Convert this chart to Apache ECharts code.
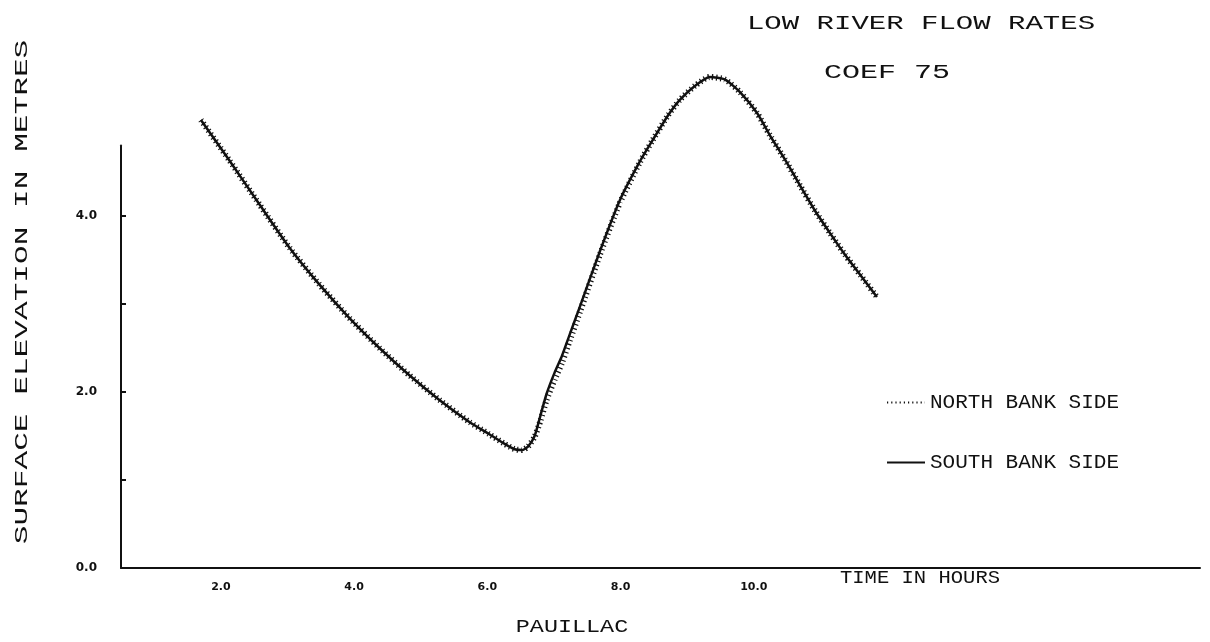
<!DOCTYPE html>
<html>
<head>
<meta charset="utf-8">
<script src="https://cdn.jsdelivr.net/npm/echarts@6/dist/echarts.min.js"></script>
<style>
html,body{margin:0;padding:0;background:#fff;}
#chart{width:1210px;height:642px;}
</style>
</head>
<body>
<div id="chart"></div>
<script>
// ---- data ----
const hours      = [1.70, 2.12, 2.58, 3.03, 3.48, 3.93, 4.38, 4.83, 5.28, 5.73, 6.03, 6.26, 6.41, 6.52, 6.61, 6.71, 6.80, 6.89, 7.01, 7.12, 7.24, 7.39, 7.69, 7.99, 8.29, 8.48, 8.71, 8.89, 9.12, 9.34, 9.57, 9.79, 10.05, 10.24, 10.47, 10.70, 10.92, 11.15, 11.37, 11.60, 11.85];
const northBank  = [5.09, 4.64, 4.13, 3.64, 3.22, 2.84, 2.50, 2.19, 1.91, 1.66, 1.52, 1.41, 1.35, 1.34, 1.38, 1.49, 1.68, 1.91, 2.14, 2.33, 2.59, 2.91, 3.56, 4.15, 4.61, 4.86, 5.14, 5.32, 5.48, 5.58, 5.55, 5.41, 5.17, 4.92, 4.64, 4.34, 4.06, 3.80, 3.56, 3.33, 3.08];
const southBank  = [5.09, 4.64, 4.13, 3.64, 3.22, 2.84, 2.50, 2.19, 1.91, 1.66, 1.52, 1.41, 1.35, 1.34, 1.38, 1.50, 1.74, 1.98, 2.22, 2.41, 2.66, 2.97, 3.60, 4.18, 4.62, 4.86, 5.14, 5.32, 5.48, 5.58, 5.55, 5.41, 5.17, 4.92, 4.64, 4.34, 4.06, 3.80, 3.56, 3.33, 3.08];
const xTickLabels = [2, 4, 6, 8, 10];
const yTicks      = [0, 1, 2, 3, 4];
const yTickLabels = [0, 2, 4];
const seriesNames = ['NORTH BANK SIDE', 'SOUTH BANK SIDE'];
const titleLines  = ['LOW RIVER FLOW RATES', 'COEF 75'];
const yAxisTitle  = 'SURFACE ELEVATION IN METRES';
const xAxisTitle  = 'TIME IN HOURS';
const stationName = 'PAUILLAC';

const mono = '"Liberation Mono", "DejaVu Sans Mono", monospace';
const chart = echarts.init(document.getElementById('chart'));

function txt(text, x, y, size, sx, rot) {
  return {
    type: 'text', x: x, y: y, scaleX: sx, rotation: rot || 0,
    style: { text: text, font: size + 'px ' + mono, fill: '#111', align: 'center', verticalAlign: 'middle' }
  };
}

chart.setOption({
  backgroundColor: '#fff',
  animation: false,
  grid: { left: 121, right: 10, top: 145.6, bottom: 74 },
  legend: {
    orient: 'vertical', left: 886, top: 392,
    itemWidth: 38, itemHeight: 14, itemGap: 39, padding: 0,
    itemStyle: { opacity: 0 },
    textStyle: { fontFamily: mono, fontSize: 21, color: '#111' },
    data: seriesNames
  },
  xAxis: {
    type: 'value', min: 0.5, max: 16.7,
    axisLine: { show: true, lineStyle: { color: '#111', width: 2 } },
    axisTick: { show: false },
    splitLine: { show: false },
    axisLabel: {
      customValues: xTickLabels, margin: 14,
      formatter: v => v.toFixed(1),
      fontSize: 11, fontWeight: 'bold', color: '#111', fontFamily: 'DejaVu Sans'
    }
  },
  yAxis: {
    type: 'value', min: 0, max: 4.8,
    axisLine: { show: true, lineStyle: { color: '#111', width: 2 } },
    axisTick: { show: true, inside: true, length: 5, customValues: yTicks, lineStyle: { color: '#111', width: 2 } },
    splitLine: { show: false },
    axisLabel: {
      customValues: yTickLabels, margin: 24,
      formatter: v => v.toFixed(1),
      fontSize: 12, fontWeight: 'bold', color: '#111', fontFamily: 'DejaVu Sans'
    }
  },
  series: [
    {
      name: seriesNames[0], type: 'line', clip: false, smooth: 0.2, symbol: 'none',
      data: hours.map((h, i) => [h, northBank[i]]),
      lineStyle: { color: '#111', width: 6, type: [1.2, 3] },
      itemStyle: { color: '#111' }, z: 3
    },
    {
      name: seriesNames[1], type: 'line', clip: false, smooth: 0.2, symbol: 'none',
      data: hours.map((h, i) => [h, southBank[i]]),
      lineStyle: { color: '#111', width: 2.5 },
      itemStyle: { color: '#111' }, z: 2
    }
  ],
  graphic: [
    txt(titleLines[0], 921, 24, 20, 1.45),
    txt(titleLines[1], 887, 73, 20, 1.5),
    txt(yAxisTitle, 22, 292, 18, 1.73, Math.PI / 2),
    txt(xAxisTitle, 920, 578, 18, 1.14),
    txt(stationName, 572, 627, 18, 1.3)
  ]
});
</script>
</body>
</html>
